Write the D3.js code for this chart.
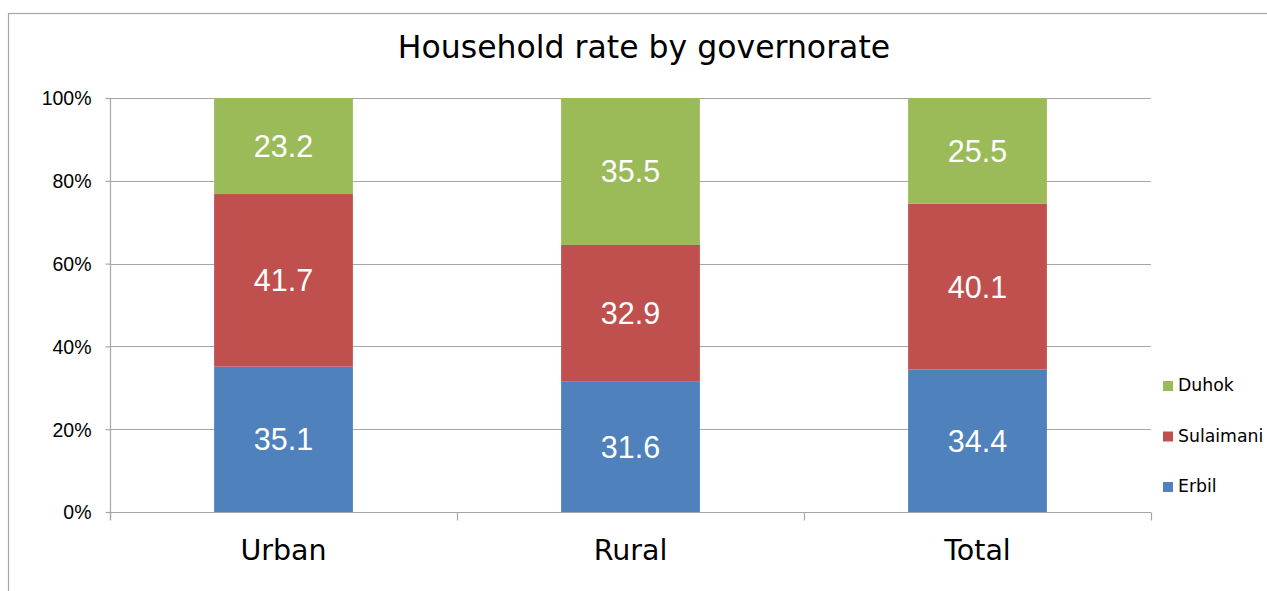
<!DOCTYPE html>
<html><head><meta charset="utf-8">
<script src="https://cdn.jsdelivr.net/npm/d3@7"></script>
<style>body{margin:0;background:#fff}svg{display:block}</style>
</head><body>
<svg id="c" width="1267" height="591"></svg>
<script>
const categories = ["Urban", "Rural", "Total"];
const seriesNames = ["Erbil", "Sulaimani", "Duhok"];
const erbil = [35.1, 31.6, 34.4];
const sulaimani = [41.7, 32.9, 40.1];
const duhok = [23.2, 35.5, 25.5];
const yTicks = [0, 20, 40, 60, 80, 100];
const colors = ["#4F81BD", "#C0504D", "#9BBB59"];
const title = "Household rate by governorate";

const svg = d3.select("#c");
const m = {l: 110, t: 98, r: 1151, b: 512};
svg.append("rect").attr("x", 8.5).attr("y", 13.5).attr("width", 1300).attr("height", 700)
  .attr("fill", "#fff").attr("stroke", "#a6a6a6").attr("stroke-width", 1.2);

const x = d3.scaleBand().domain(categories).range([m.l, m.r]).padding(0);
const y = d3.scaleLinear().domain([0, 100]).range([m.b, m.t]);

// gridlines
svg.append("g").selectAll("line").data(yTicks.slice(1)).join("line")
  .attr("x1", m.l).attr("x2", m.r).attr("y1", d => Math.round(y(d)) + 0.5).attr("y2", d => Math.round(y(d)) + 0.5)
  .attr("stroke", "#a6a6a6").attr("stroke-width", 1.2);

const stackData = categories.map((c, i) => ({cat: c, Erbil: erbil[i], Sulaimani: sulaimani[i], Duhok: duhok[i]}));
const stack = d3.stack().keys(seriesNames)(stackData);
const bw = x.bandwidth() * 0.4;

stack.forEach((layer, li) => {
  const g = svg.append("g");
  g.selectAll("rect").data(layer).join("rect")
    .attr("x", d => x(d.data.cat) + (x.bandwidth() - bw) / 2)
    .attr("y", d => y(d[1]))
    .attr("width", bw)
    .attr("height", d => y(d[0]) - y(d[1]))
    .attr("fill", colors[li]);
  g.selectAll("text").data(layer).join("text")
    .attr("x", d => x(d.data.cat) + x.bandwidth() / 2)
    .attr("y", d => (y(d[0]) + y(d[1])) / 2 + 11)
    .attr("text-anchor", "middle")
    .attr("font-family", "Liberation Sans, Arial, sans-serif")
    .attr("font-size", 30.5).attr("fill", "#fff")
    .text(d => d3.format(".1f")(d[1] - d[0]));
});

// y axis
const ya = svg.append("g").attr("transform", `translate(${m.l + 0.5},0)`)
  .call(d3.axisLeft(y).tickValues(yTicks).tickFormat(d => d + "%").tickSize(5).tickSizeOuter(0));
ya.select(".domain").attr("stroke", "#a6a6a6").attr("stroke-width", 1.2).attr("d", `M0,${m.t}V${m.b + 8}`);
ya.selectAll(".tick line").attr("stroke", "#a6a6a6").attr("stroke-width", 1.2);
ya.selectAll(".tick text").attr("font-family", "Liberation Sans, Arial, sans-serif").attr("font-size", 19.5)
  .attr("fill", "#000").attr("x", -19).attr("dy", "0.35em");

// x axis
const xa = svg.append("g").attr("transform", `translate(0,${Math.round(y(0)) + 0.5})`);
xa.append("line").attr("x1", m.l).attr("x2", m.r).attr("stroke", "#a6a6a6").attr("stroke-width", 1.2);
const edges = categories.map(c => x(c)).concat([x(categories[categories.length - 1]) + x.bandwidth()]);
xa.selectAll("line.t").data(edges).join("line").attr("class", "t")
  .attr("x1", d => Math.round(d) + 0.5).attr("x2", d => Math.round(d) + 0.5).attr("y1", 0).attr("y2", 8)
  .attr("stroke", "#a6a6a6").attr("stroke-width", 1.2);
xa.selectAll("text").data(categories).join("text")
  .attr("x", d => x(d) + x.bandwidth() / 2).attr("y", 47.5)
  .attr("text-anchor", "middle").attr("font-family", "DejaVu Sans, Verdana, sans-serif")
  .attr("font-size", 28.5).attr("fill", "#000").text(d => d);

// title
svg.append("text").attr("x", 644).attr("y", 58).attr("text-anchor", "middle")
  .attr("font-family", "DejaVu Sans, Verdana, sans-serif").attr("font-size", 31.5).attr("fill", "#000").text(title);

// legend (reverse order: Duhok top)
const legendItems = seriesNames.map((n, i) => ({n, c: colors[i]})).reverse();
const lg = svg.append("g").selectAll("g").data(legendItems).join("g")
  .attr("transform", (d, i) => `translate(1163,${391 + i * 50.5})`);
lg.append("rect").attr("x", 0).attr("y", -10).attr("width", 10).attr("height", 10).attr("fill", d => d.c);
lg.append("text").attr("x", 15).attr("y", 0).attr("font-family", "DejaVu Sans, Verdana, sans-serif")
  .attr("font-size", 17.3).attr("fill", "#000").text(d => d.n);
</script>
</body></html>
